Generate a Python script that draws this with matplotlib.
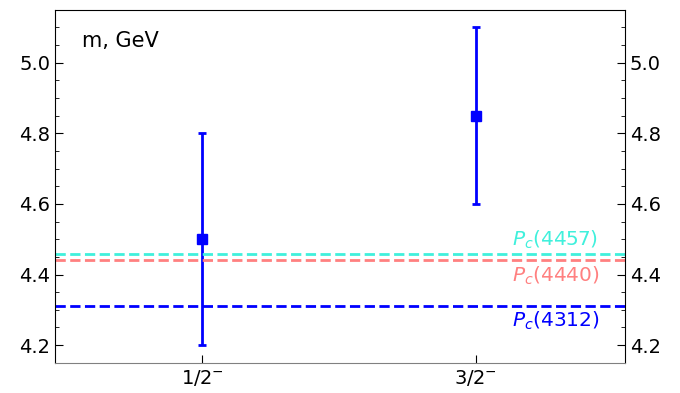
import matplotlib.pyplot as plt

# data
states = ['1/2$^{-}$', '3/2$^{-}$']
masses = [4.50, 4.85]
errors = [0.30, 0.25]

pc_names = ['$P_c(4457)$', '$P_c(4440)$', '$P_c(4312)$']
pc_masses = [4.457, 4.440, 4.312]
pc_colors = ['#40f0dc', '#ff8080', 'blue']

fig, ax = plt.subplots(figsize=(6.8, 3.93), dpi=100)
fig.subplots_adjust(left=0.081, right=0.919, top=0.975, bottom=0.077)

x = list(range(len(states)))
ax.errorbar(x, masses, yerr=errors, fmt='s', color='blue', markersize=7,
            elinewidth=2, capsize=3, capthick=2)

for m, c in zip(pc_masses, pc_colors):
    ax.axhline(m, color=c, ls='--', lw=2)

xt = 1.29
ax.text(xt, pc_masses[0] + 0.01, pc_names[0], color=pc_colors[0], fontsize=14.5,
        ha='center', va='bottom')
ax.text(xt, pc_masses[1] - 0.012, pc_names[1], color=pc_colors[1], fontsize=14.5,
        ha='center', va='top')
ax.text(xt, pc_masses[2] - 0.012, pc_names[2], color=pc_colors[2], fontsize=14.5,
        ha='center', va='top')

ax.text(0.048, 0.94, 'm, GeV', transform=ax.transAxes, fontsize=15, va='top')

ax.set_xlim(-0.536, 1.544)
ax.set_ylim(4.15, 5.15)
ax.set_xticks(x)
ax.set_xticklabels(states)
ax.set_yticks([4.2, 4.4, 4.6, 4.8, 5.0])
ax.minorticks_on()
ax.tick_params(axis='x', which='minor', bottom=False, top=False)
ax.tick_params(axis='y', which='both', direction='in', left=True, right=True,
               labelright=True, labelsize=14)
ax.tick_params(axis='y', which='major', length=6)
ax.tick_params(axis='y', which='minor', length=3)
ax.tick_params(axis='x', direction='in', labelsize=14, length=6)
ax.spines['bottom'].set_color('gray')

plt.savefig('out.png', dpi=100)
